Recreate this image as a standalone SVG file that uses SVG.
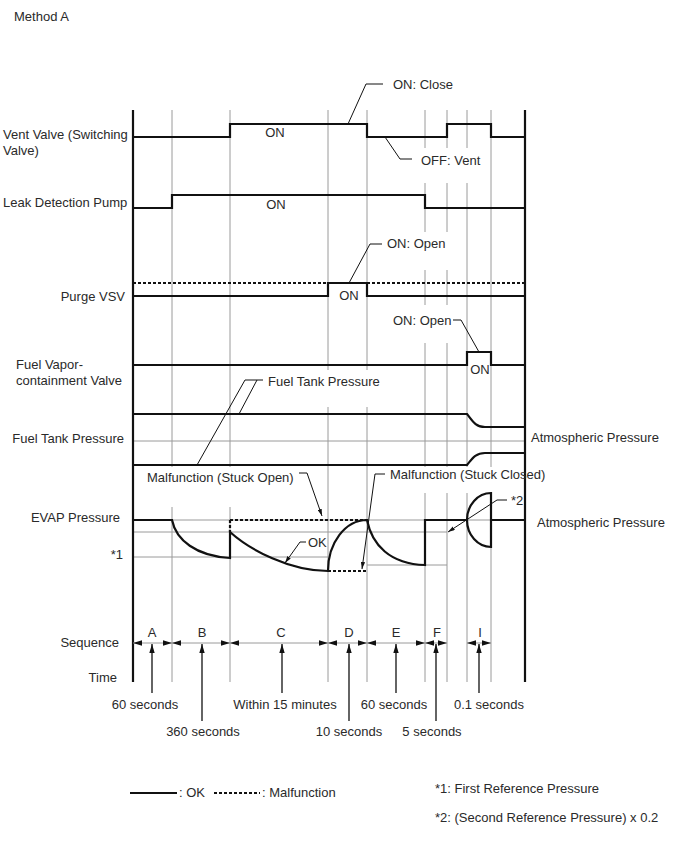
<svg xmlns="http://www.w3.org/2000/svg" width="688" height="852" viewBox="0 0 688 852">
<style>
text{font-family:"Liberation Sans",Arial,sans-serif;font-size:13px;fill:#2a2a2a}
.g{stroke:#9a9a9a;stroke-width:1;fill:none}
.ax{stroke:#111;stroke-width:2.2;fill:none}
.s{stroke:#111;stroke-width:2.2;fill:none}
.d{stroke:#111;stroke-width:2.2;fill:none;stroke-dasharray:3 2}
.ld{stroke:#111;stroke-width:1;fill:none}
.dim{stroke:#9a9a9a;stroke-width:1;fill:none}
.up{stroke:#111;stroke-width:1.3;fill:none}
.m{text-anchor:middle}
.e{text-anchor:end}
</style>
<defs>
<marker id="ah" viewBox="0 0 10 6" refX="10" refY="3" markerWidth="9" markerHeight="5.5" markerUnits="userSpaceOnUse" orient="auto-start-reverse"><path d="M0,0 L10,3 L0,6 z" fill="#111"/></marker>
<marker id="la" viewBox="0 0 10 6" refX="10" refY="3" markerWidth="7" markerHeight="4.5" markerUnits="userSpaceOnUse" orient="auto"><path d="M0,0 L10,3 L0,6 z" fill="#111"/></marker>
</defs>
<rect width="688" height="852" fill="#fff"/>
<text x="14" y="21">Method A</text>

<g id="grid">
<path class="g" d="M172,110V467M172,507V682M230,110V467M230,507V682M328,110V370M328,407V682M367,110V370M367,407V682M425,110V148M425,183V232M425,270V305M425,343V467M425,493V682M447,110V148M447,183V232M447,270V305M447,343V467M447,493V682M467,110V148M467,183V467M467,493V682M491,110V467M491,493V682"/>
<path class="g" d="M133,441H525M133,520H525M133,532H447M133,557H328M367,565H447"/>
<path class="ax" d="M133,110V682M525,110V682"/>
</g>

<g id="vent-valve">
<text x="3" y="139">Vent Valve (Switching</text>
<text x="3" y="155">Valve)</text>
<path class="s" d="M133,137H230V124H367V137H447V124H491V137H525"/>
<text class="m" x="275" y="137">ON</text>
<text x="393" y="89">ON: Close</text>
<text x="421" y="165">OFF: Vent</text>
</g>

<g id="leak-detection-pump">
<text x="3" y="207">Leak Detection Pump</text>
<path class="s" d="M133,208H172V195H425V208H525"/>
<text class="m" x="276" y="209">ON</text>
</g>

<g id="purge-vsv">
<text class="e" x="125" y="301">Purge VSV</text>
<path class="d" d="M133,283H328M367,283H525"/>
<path class="s" d="M133,296H328V283H367V296H525"/>
<text class="m" x="349" y="300">ON</text>
<text x="387" y="248">ON: Open</text>
</g>

<g id="fuel-vapor-containment-valve">
<text x="16" y="369">Fuel Vapor-</text>
<text x="16" y="385">containment Valve</text>
<path class="s" d="M133,365H467V352H491V365H525"/>
<text class="m" x="480" y="374">ON</text>
<text x="393" y="325">ON: Open</text>
</g>

<g id="fuel-tank-pressure">
<text class="e" x="124" y="443">Fuel Tank Pressure</text>
<path class="s" d="M133,414H467C472,420 475,427 485,427H525"/>
<path class="s" d="M133,465H467C472,459 475,453 485,453H525"/>
<text x="268" y="386">Fuel Tank Pressure</text>
<text x="531" y="442">Atmospheric Pressure</text>
</g>

<g id="evap-pressure">
<text class="e" x="120" y="522">EVAP Pressure</text>
<text class="e" x="123" y="559">*1</text>
<path class="d" d="M230,520H367M230,520V532M328,571H367"/>
<path class="s" d="M133,520H172C176,540 196,556 230,558V532C250,550 290,571 328,571A39,51 0 0 1 367,520C372,545 390,564 425,565V520H467A24,27 0 0 1 491,493V547A24,27 0 0 1 467,520M491,520H525"/>
<text x="147" y="482">Malfunction (Stuck Open)</text>
<text x="390" y="479">Malfunction (Stuck Closed)</text>
<text x="308" y="547">OK</text>
<text x="511" y="505">*2</text>
<text x="537" y="527">Atmospheric Pressure</text>
</g>

<g id="connectors">
<path class="ld" d="M383,84H366L348,124"/>
<path class="ld" d="M385,137L400,159H412"/>
<path class="ld" d="M382,244H370L349,283"/>
<path class="ld" d="M453,320H461L479,352"/>
<path class="ld" d="M263,380H245L197,465M257,380L239,414"/>
<path class="ld" d="M299,473H307L322,516" marker-end="url(#la)"/>
<path class="ld" d="M385,474H375L362,569" marker-end="url(#la)"/>
<path class="ld" d="M306,542H300L285,563" marker-end="url(#la)"/>
<path class="ld" d="M507,500H497L448,532" marker-end="url(#la)"/>
</g>

<g id="sequence">
<text class="e" x="119" y="647">Sequence</text>
<text class="e" x="117" y="682">Time</text>
<g marker-start="url(#ah)" marker-end="url(#ah)">
<line class="dim" x1="133" y1="643" x2="172" y2="643"/>
<line class="dim" x1="172" y1="643" x2="230" y2="643"/>
<line class="dim" x1="230" y1="643" x2="328" y2="643"/>
<line class="dim" x1="328" y1="643" x2="367" y2="643"/>
<line class="dim" x1="367" y1="643" x2="425" y2="643"/>
<line class="dim" x1="425" y1="643" x2="447" y2="643"/>
<line class="dim" x1="467" y1="643" x2="491" y2="643"/>
</g>
<text class="m" x="152" y="637">A</text>
<text class="m" x="202" y="637">B</text>
<text class="m" x="281" y="637">C</text>
<text class="m" x="349" y="637">D</text>
<text class="m" x="396" y="637">E</text>
<text class="m" x="437" y="637">F</text>
<text class="m" x="480" y="637">I</text>
<g marker-end="url(#ah)">
<line class="up" x1="152" y1="693" x2="152" y2="644"/>
<line class="up" x1="202" y1="721" x2="202" y2="644"/>
<line class="up" x1="282" y1="693" x2="282" y2="644"/>
<line class="up" x1="349" y1="721" x2="349" y2="644"/>
<line class="up" x1="396" y1="693" x2="396" y2="644"/>
<line class="up" x1="436" y1="721" x2="436" y2="644"/>
<line class="up" x1="479" y1="693" x2="479" y2="644"/>
</g>
<text class="m" x="145" y="709">60 seconds</text>
<text class="m" x="203" y="736">360 seconds</text>
<text class="m" x="285" y="709">Within 15 minutes</text>
<text class="m" x="349" y="736">10 seconds</text>
<text class="m" x="394" y="709">60 seconds</text>
<text class="m" x="432" y="736">5 seconds</text>
<text class="m" x="489" y="709">0.1 seconds</text>
</g>

<g id="legend">
<path class="s" d="M130,793H177"/>
<text x="179" y="797">: OK</text>
<path class="d" d="M214,793H260"/>
<text x="262" y="797">: Malfunction</text>
<text x="435" y="793">*1: First Reference Pressure</text>
<text x="435" y="822">*2: (Second Reference Pressure) x 0.2</text>
</g>
</svg>
